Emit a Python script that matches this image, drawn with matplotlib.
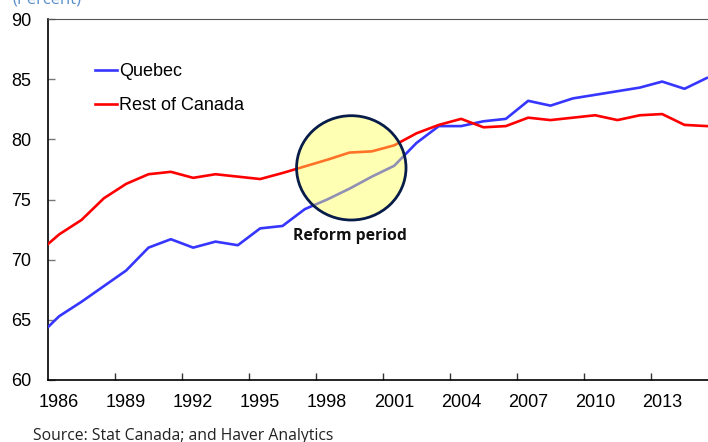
import numpy as np
import matplotlib
matplotlib.use("Agg")
import matplotlib.pyplot as plt
from matplotlib.patches import Ellipse

# participation rate data (percent), 1985-2015
years = np.arange(1985, 2016)
quebec = [63.5, 65.3, 66.5, 67.8, 69.1, 71.0, 71.7, 71.0, 71.5, 71.2,
          72.6, 72.8, 74.2, 75.0, 75.9, 76.9, 77.8, 79.7, 81.1, 81.1,
          81.5, 81.7, 83.2, 82.8, 83.4, 83.7, 84.0, 84.3, 84.8, 84.2, 85.1]
rest_of_canada = [70.5, 72.1, 73.3, 75.1, 76.3, 77.1, 77.3, 76.8, 77.1, 76.9,
                  76.7, 77.2, 77.75, 78.3, 78.9, 79.0, 79.5, 80.5, 81.2, 81.7,
                  81.0, 81.1, 81.8, 81.6, 81.8, 82.0, 81.6, 82.0, 82.1, 81.2, 81.1]
tick_years = list(range(1986, 2016, 3))

fig = plt.figure(figsize=(7.08, 4.42), dpi=100)
ax = fig.add_axes([48 / 708, 62 / 442, 670 / 708, 361 / 442])

# points sit in the middle of each year category
x = years + 0.5
ax.plot(x, quebec, color="#3636ff", lw=1.9, label="Quebec", zorder=3)
ax.plot(x, rest_of_canada, color="#ff0000", lw=1.9, label="Rest of Canada", zorder=3)

# highlight circle (translucent fill over the lines)
circ = Ellipse((1999.58, 77.63), width=4.9, height=8.67,
               facecolor=(1.0, 1.0, 0.35, 0.45), edgecolor="#081c4a",
               lw=2.0, zorder=4)
ax.add_patch(circ)
ax.text(1999.5, 72.0, "Reform period", ha="center", va="center",
        fontsize=11.3, fontweight="bold", family="Open Sans", color="#111111")

ax.set_xlim(1986, 2016)
ax.set_ylim(60, 90)
ax.set_yticks(range(60, 91, 5))

# ticks between categories, labels in the middle
ax.set_xticks(list(range(1989, 2016, 3)))
ax.set_xticklabels([])
ax.set_xticks([y + 0.5 for y in tick_years], minor=True)
ax.set_xticklabels([str(y) for y in tick_years], minor=True)
ax.tick_params(axis="x", which="major", direction="in", length=5, width=1, color="#333333")
ax.tick_params(axis="x", which="minor", length=0, pad=10, labelsize=13)
ax.tick_params(axis="y", direction="in", length=5, width=1, color="#777777",
               pad=12, labelsize=13)
for lab in ax.get_xticklabels(minor=True) + ax.get_yticklabels():
    lab.set_family("Liberation Sans")

ax.spines["right"].set_visible(False)
ax.spines["top"].set_color("#555555")
ax.spines["left"].set_linewidth(1.2)
ax.spines["bottom"].set_linewidth(1.2)

leg = ax.legend(loc="upper left", bbox_to_anchor=(95 / 708, 1 - 63 / 442),
                bbox_transform=fig.transFigure, frameon=False,
                handlelength=1.2, handletextpad=0.15, labelspacing=0.95,
                borderpad=0, borderaxespad=0,
                prop={"family": "Liberation Sans", "size": 13})

fig.text(12 / 708, 1 - 4 / 442, "(Percent)", color="#5b8fc9", fontsize=12,
         family="Open Sans", va="baseline")
fig.text(33 / 708, 1 - 440 / 442, "Source: Stat Canada; and Haver Analytics",
         color="#222222", fontsize=11.3, family="Open Sans", va="baseline")

fig.savefig("out.png", dpi=100)
